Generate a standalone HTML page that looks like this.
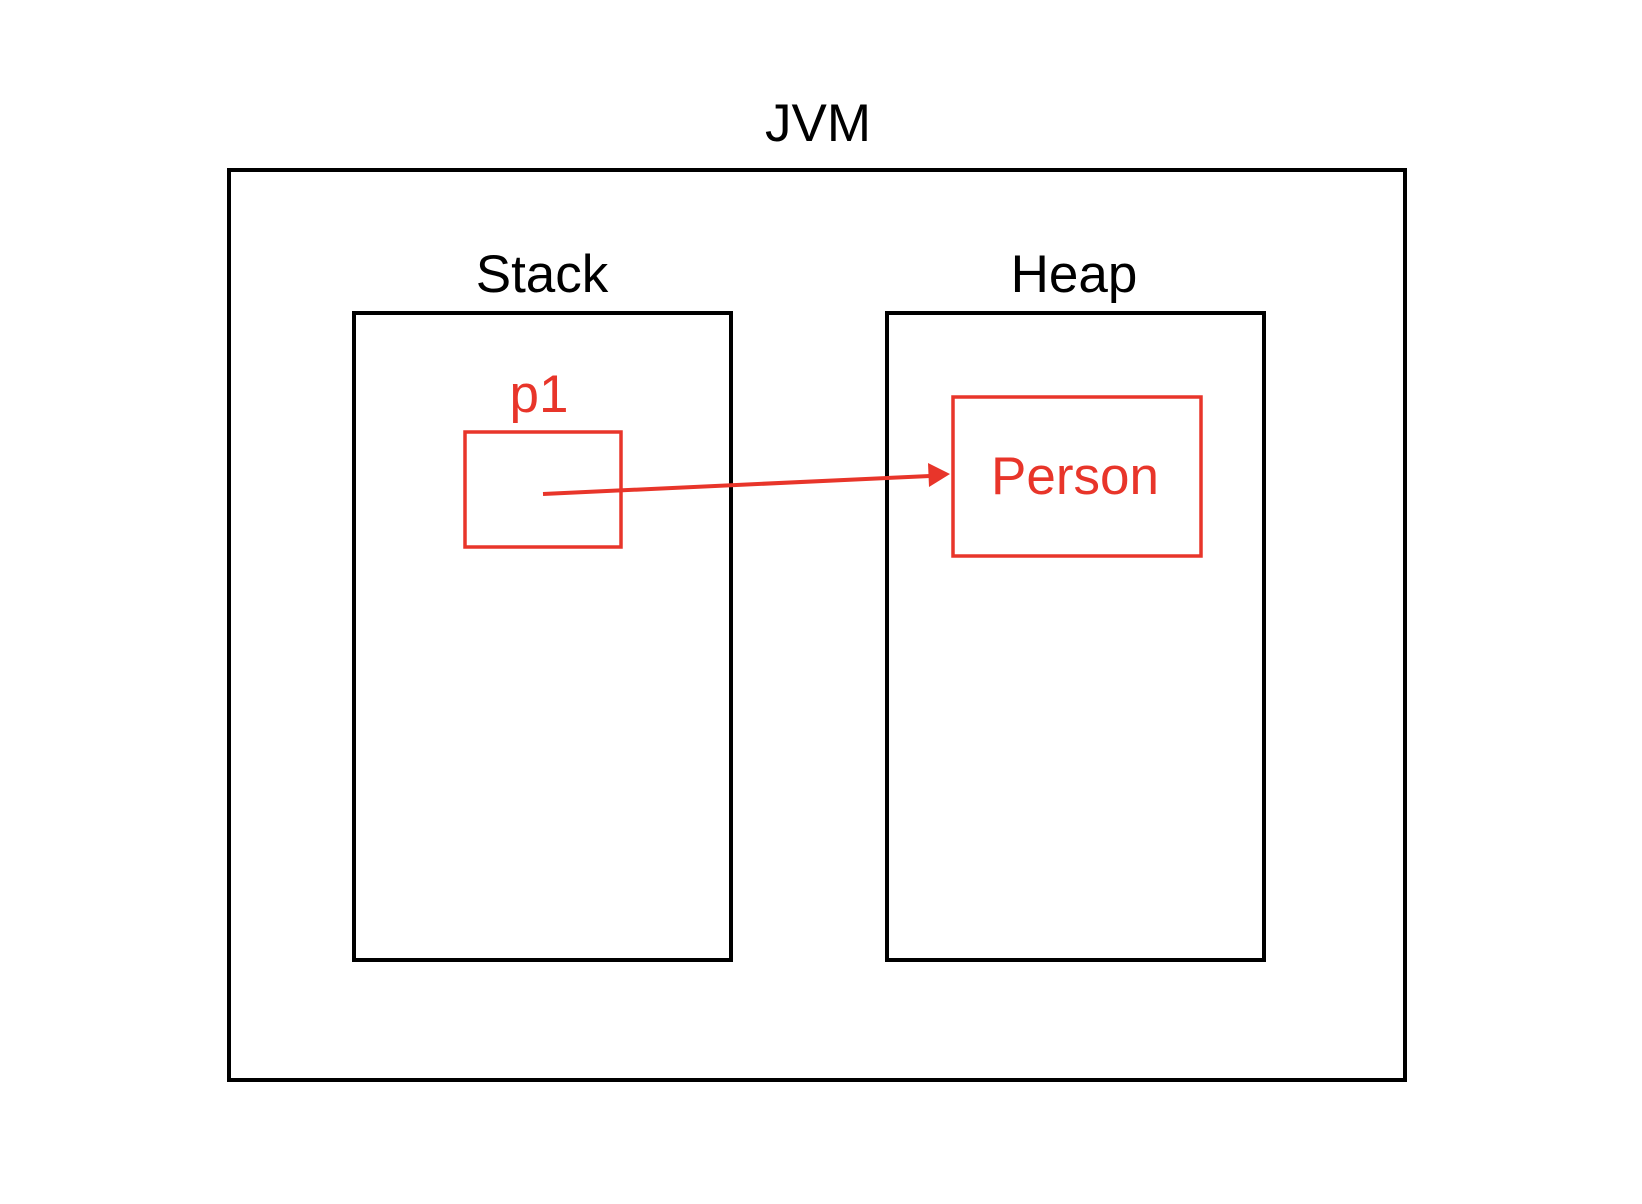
<!DOCTYPE html>
<html><head><meta charset="utf-8"><style>
html,body{margin:0;padding:0;background:#fff}
svg{display:block}
text{font-family:"Liberation Sans",sans-serif}
</style></head><body>
<svg width="1642" height="1204" viewBox="0 0 1642 1204">
<rect width="1642" height="1204" fill="#fff"/>
<text x="818" y="141" font-size="53" text-anchor="middle" fill="#000">JVM</text>
<rect x="229" y="170" width="1176" height="910" fill="none" stroke="#000" stroke-width="4"/>
<text x="542" y="292" font-size="53" text-anchor="middle" fill="#000">Stack</text>
<rect x="354" y="313" width="377" height="647" fill="none" stroke="#000" stroke-width="4"/>
<text x="1074" y="292" font-size="53" text-anchor="middle" fill="#000">Heap</text>
<rect x="887" y="313" width="377" height="647" fill="none" stroke="#000" stroke-width="4"/>
<text x="539" y="412" font-size="53" text-anchor="middle" fill="#e8352a">p1</text>
<rect x="465" y="432" width="156" height="115" fill="none" stroke="#e8352a" stroke-width="3.5"/>
<rect x="953" y="397" width="248" height="159" fill="none" stroke="#e8352a" stroke-width="3.5"/>
<text x="1075" y="494" font-size="53" text-anchor="middle" fill="#e8352a">Person</text>
<line x1="543" y1="494" x2="930" y2="476" stroke="#e8352a" stroke-width="4"/>
<polygon points="950,474 928,463 929,487" fill="#e8352a"/>
</svg>
</body></html>
